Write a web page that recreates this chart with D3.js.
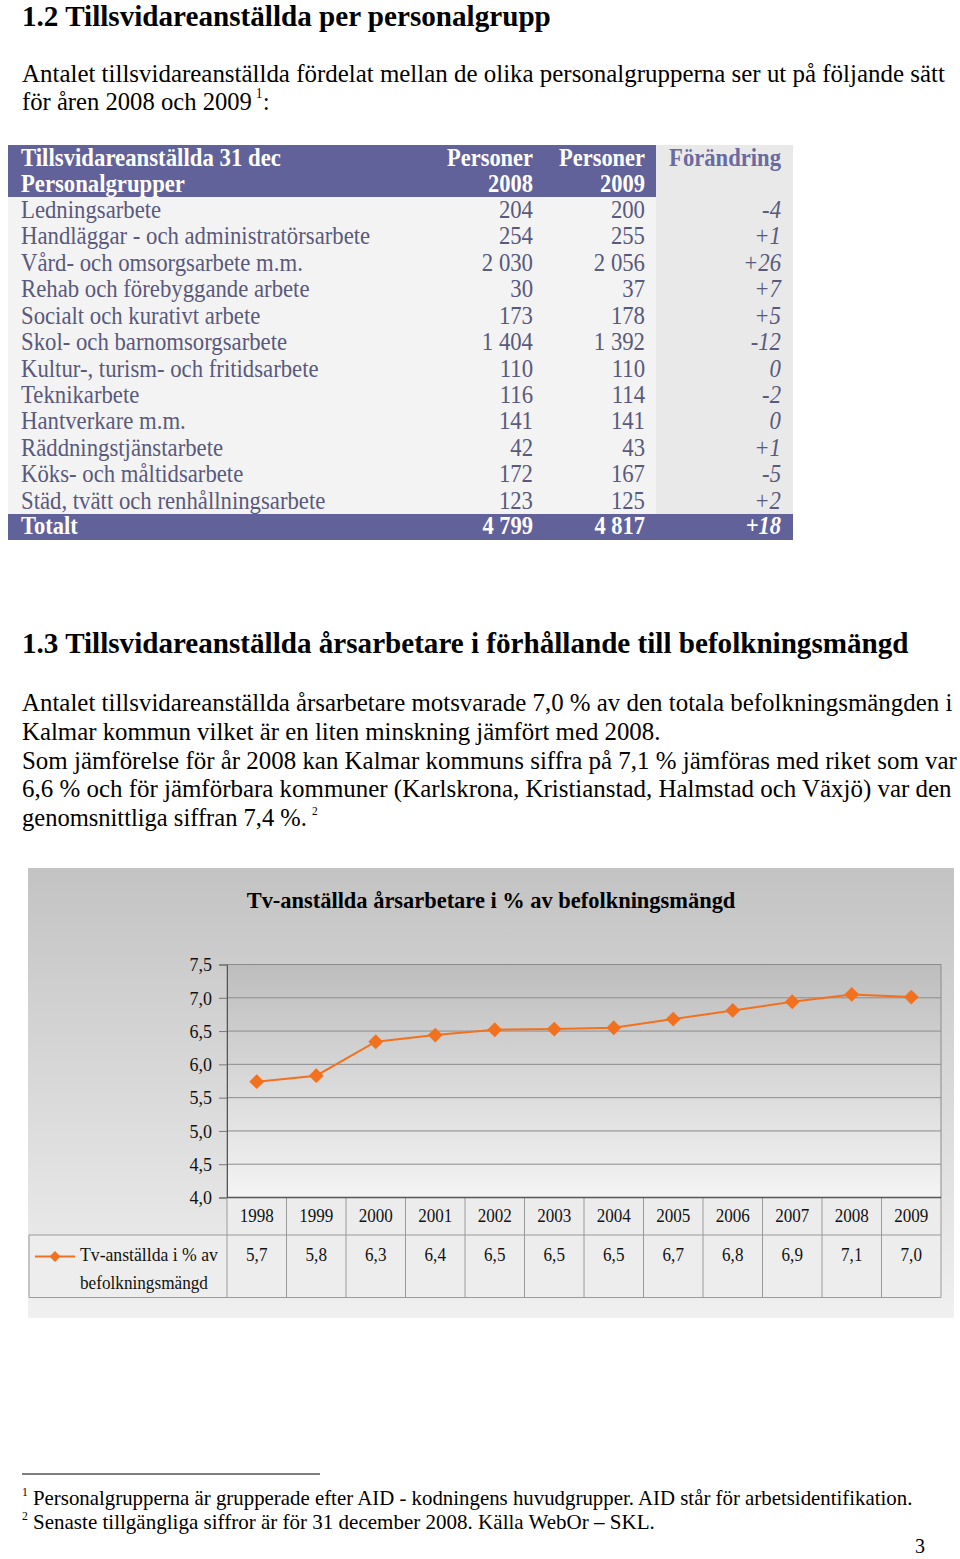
<!DOCTYPE html>
<html><head><meta charset="utf-8">
<script src="https://cdn.jsdelivr.net/npm/d3@7"></script>
<style>html,body{margin:0;padding:0;background:#fff}</style>
</head><body>
<script>
// ---------- DATA ----------
const groups = ["Ledningsarbete","Handläggar - och administratörsarbete","Vård- och omsorgsarbete m.m.",
  "Rehab och förebyggande arbete","Socialt och kurativt arbete","Skol- och barnomsorgsarbete",
  "Kultur-, turism- och fritidsarbete","Teknikarbete","Hantverkare m.m.","Räddningstjänstarbete",
  "Köks- och måltidsarbete","Städ, tvätt och renhållningsarbete"];
const persons2008 = [204,254,2030,30,173,1404,110,116,141,42,172,123];
const persons2009 = [200,255,2056,37,178,1392,110,114,141,43,167,125];
const changes = ["-4","+1","+26","+7","+5","-12","0","-2","0","+1","-5","+2"];
const total2008 = 4799, total2009 = 4817, totalChange = "+18";

const years = [1998,1999,2000,2001,2002,2003,2004,2005,2006,2007,2008,2009];
const shareValues = [5.74,5.83,6.34,6.44,6.52,6.53,6.55,6.68,6.81,6.94,7.05,7.01];
const shareLabels = ["5,7","5,8","6,3","6,4","6,5","6,5","6,5","6,7","6,8","6,9","7,1","7,0"];
const yTicks = [4.0,4.5,5.0,5.5,6.0,6.5,7.0,7.5];
const chartTitle = "Tv-anställda årsarbetare i % av befolkningsmängd";
const seriesName = ["Tv-anställda i % av","befolkningsmängd"];

// ---------- SETUP ----------
const W = 960, H = 1559;
const FONT = "Liberation Serif, Times New Roman, Tinos, serif";
const svg = d3.select("body").append("svg").attr("width",W).attr("height",H);
svg.append("rect").attr("width",W).attr("height",H).attr("fill","#fff");

// text helper: o.w = target width (scaled horizontally), else o.sx
function T(x,y,s,o={}){
  const t = svg.append("text").text(s)
    .attr("font-family",FONT).attr("font-size",o.size||25)
    .attr("fill",o.fill||"#000")
    .attr("font-weight",o.bold?"bold":"normal")
    .attr("font-style",o.italic?"italic":"normal")
    .attr("text-anchor",o.anchor||"start")
    .attr("x",0).attr("y",0);
  let sx = o.sx||0.9;
  if(o.w){ const L = t.node().getComputedTextLength(); if(L>0) sx = o.w/L; }
  t.attr("transform",`translate(${x},${y}) scale(${sx},1)`);
  return t;
}
const fmtN = n => d3.format(",")(n).replace(/,/g," ");

// ---------- SECTION 1.2 ----------
T(22,26,"1.2 Tillsvidareanställda per personalgrupp",{size:30,bold:true,w:529});
T(22,82,"Antalet tillsvidareanställda fördelat mellan de olika personalgrupperna ser ut på följande sätt",{size:26,w:923});
T(22,110,"för åren 2008 och 2009",{size:26,w:230});
T(256,98,"1",{size:14,sx:0.9});
T(263,110,":",{size:26,sx:0.9});

// ---------- TABLE ----------
const purple = "#62629b", txtC = "#59597c";
const tx0 = 8, tx1 = 656, tx2 = 793;
const rowY = d3.scaleBand().domain(d3.range(groups.length)).range([197,514]);
svg.append("rect").attr("x",tx0).attr("y",145).attr("width",tx1-tx0).attr("height",52).attr("fill",purple);
svg.append("rect").attr("x",tx1).attr("y",145).attr("width",tx2-tx1).attr("height",369).attr("fill","#e9e9ea");
svg.append("rect").attr("x",tx0).attr("y",197).attr("width",tx1-tx0).attr("height",317).attr("fill","#f3f3f3");
svg.append("rect").attr("x",tx0).attr("y",514).attr("width",tx2-tx0).attr("height",26).attr("fill",purple);

const c1 = 533, c2 = 645, c3 = 781;
T(21,166,"Tillsvidareanställda 31 dec",{size:25,bold:true,fill:"#fff",w:260});
T(21,192,"Personalgrupper",{size:25,bold:true,fill:"#fff",w:164});
T(c1,166,"Personer",{size:25,bold:true,fill:"#fff",anchor:"end",w:86});
T(c1,192,"2008",{size:25,bold:true,fill:"#fff",anchor:"end",sx:0.9});
T(c2,166,"Personer",{size:25,bold:true,fill:"#fff",anchor:"end",w:86});
T(c2,192,"2009",{size:25,bold:true,fill:"#fff",anchor:"end",sx:0.9});
T(c3,166,"Förändring",{size:25,bold:true,fill:"#6a6aa0",anchor:"end",w:112});

groups.forEach((g,i)=>{
  const yb = rowY(i) + 21;
  T(21,yb,g,{size:25,fill:txtC,sx:0.91});
  T(c1,yb,fmtN(persons2008[i]),{size:25,fill:txtC,anchor:"end",sx:0.91});
  T(c2,yb,fmtN(persons2009[i]),{size:25,fill:txtC,anchor:"end",sx:0.91});
  T(c3,yb,changes[i],{size:25,fill:txtC,anchor:"end",italic:true,sx:0.91});
});
T(21,534,"Totalt",{size:25,bold:true,fill:"#fff",sx:0.9});
T(c1,534,fmtN(total2008),{size:25,bold:true,fill:"#fff",anchor:"end",sx:0.9});
T(c2,534,fmtN(total2009),{size:25,bold:true,fill:"#fff",anchor:"end",sx:0.9});
T(c3,534,totalChange,{size:25,bold:true,italic:true,fill:"#fff",anchor:"end",sx:0.9});

// ---------- SECTION 1.3 ----------
T(22,653,"1.3 Tillsvidareanställda årsarbetare i förhållande till befolkningsmängd",{size:30,bold:true,w:887});
const paraLines = [
  ["Antalet tillsvidareanställda årsarbetare motsvarade 7,0 % av den totala befolkningsmängden i",931],
  ["Kalmar kommun vilket är en liten minskning jämfört med 2008.",639],
  ["Som jämförelse för år 2008 kan Kalmar kommuns siffra på 7,1 % jämföras med riket som var",935],
  ["6,6 % och för jämförbara kommuner (Karlskrona, Kristianstad, Halmstad och Växjö) var den",930],
  ["genomsnittliga siffran 7,4 %.",285]
];
const paraBase = [711,740,769,797,826];
paraLines.forEach((l,i)=>T(22,paraBase[i],l[0],{size:26,w:l[1]}));
T(312,815,"2",{size:12,sx:0.95});

// ---------- CHART ----------
const defs = svg.append("defs");
const g1 = defs.append("linearGradient").attr("id","bgGrad").attr("x1",0).attr("y1",0).attr("x2",0).attr("y2",1);
g1.append("stop").attr("offset","0%").attr("stop-color","#c3c3c3");
g1.append("stop").attr("offset","100%").attr("stop-color","#f0f0f0");
const g2 = defs.append("linearGradient").attr("id","plotGrad").attr("x1",0).attr("y1",0).attr("x2",0).attr("y2",1);
g2.append("stop").attr("offset","0%").attr("stop-color","#bdbdbd");
g2.append("stop").attr("offset","100%").attr("stop-color","#f4f4f4");

svg.append("rect").attr("x",28).attr("y",868).attr("width",926).attr("height",450).attr("fill","url(#bgGrad)");

const x = d3.scaleBand().domain(years).range([227,941]);
const y = d3.scaleLinear().domain([4,7.5]).range([1197.5,964.5]);

svg.append("rect").attr("x",227).attr("y",y(7.5)).attr("width",941-227).attr("height",y(4)-y(7.5))
  .attr("fill","url(#plotGrad)").attr("stroke","#8c8c8c");

T(491,908,chartTitle,{size:24,bold:true,anchor:"middle",w:489});

// gridlines
svg.append("g").selectAll("line").data(yTicks.filter(v=>v>4)).join("line")
  .attr("x1",227).attr("x2",941).attr("y1",d=>y(d)).attr("y2",d=>y(d))
  .attr("stroke","#8c8c8c").attr("stroke-width",1);

// y axis
const yAxis = svg.append("g").attr("transform","translate(227,0)")
  .call(d3.axisLeft(y).tickValues(yTicks).tickSize(8).tickPadding(7)
    .tickFormat(d=>d3.format(".1f")(d).replace(".",",")));
yAxis.select(".domain").attr("stroke","#555");
yAxis.selectAll(".tick line").attr("stroke","#777");
yAxis.selectAll(".tick text").attr("font-family",FONT).attr("font-size",18).attr("fill","#111").attr("dy","0.35em");

// data table under the chart
const tb = svg.append("g");
const tTop = 1197.5, tMid = 1235, tBot = 1297.5;
tb.append("rect").attr("x",29).attr("y",tMid).attr("width",941-29).attr("height",tBot-tMid).attr("fill","#ededed");
tb.append("rect").attr("x",227).attr("y",tTop).attr("width",941-227).attr("height",tMid-tTop).attr("fill","#ececec");
tb.append("path").attr("fill","none").attr("stroke","#9a9a9a").attr("stroke-width",1)
  .attr("d",`M227,${tTop}V${tBot}M941,${tTop}V${tBot}M29,${tMid}H941M29,${tMid}V${tBot}H941`);
tb.selectAll("line.col").data(years.slice(1)).join("line").attr("class","col")
  .attr("x1",d=>x(d)).attr("x2",d=>x(d)).attr("y1",tTop).attr("y2",tBot)
  .attr("stroke","#9a9a9a");
years.forEach((yr,i)=>{
  T(x(yr)+x.bandwidth()/2,1222,String(yr),{size:18,anchor:"middle",fill:"#111",sx:0.95});
  T(x(yr)+x.bandwidth()/2,1261,shareLabels[i],{size:18,anchor:"middle",fill:"#111",sx:0.95});
});
svg.append("line").attr("x1",227).attr("x2",941).attr("y1",y(4)).attr("y2",y(4)).attr("stroke","#555").attr("stroke-width",1.5);

// legend key
const orange = "#f2711f";
const diamond = sz => d3.symbol(d3.symbolSquare, sz)();
svg.append("line").attr("x1",35).attr("x2",75).attr("y1",1256.5).attr("y2",1256.5).attr("stroke",orange).attr("stroke-width",2);
svg.append("path").attr("d",diamond(60)).attr("transform","translate(55,1256.5) rotate(45)").attr("fill",orange);
T(80,1261,seriesName[0],{size:18,fill:"#111",w:138});
T(80,1289,seriesName[1],{size:18,fill:"#111",w:128});

// line + markers
const line = d3.line().x((d,i)=>x(years[i])+x.bandwidth()/2).y(d=>y(d));
svg.append("path").datum(shareValues).attr("d",line).attr("fill","none").attr("stroke",orange).attr("stroke-width",2);
svg.append("g").selectAll("path").data(shareValues).join("path")
  .attr("d",diamond(110))
  .attr("transform",(d,i)=>`translate(${x(years[i])+x.bandwidth()/2},${y(d)}) rotate(45)`)
  .attr("fill",orange);

// ---------- FOOTNOTES ----------
svg.append("line").attr("x1",22).attr("x2",320).attr("y1",1474).attr("y2",1474).attr("stroke","#000").attr("stroke-width",1.2);
T(22,1496,"1",{size:13,sx:0.9});
T(33,1505,"Personalgrupperna är grupperade efter AID - kodningens huvudgrupper. AID står för arbetsidentifikation.",{size:20,w:880});
T(22,1520,"2",{size:13,sx:0.9});
T(33,1529,"Senaste tillgängliga siffror är för 31 december 2008. Källa WebOr  – SKL.",{size:20,w:622});
T(925,1553,"3",{size:21,anchor:"end",sx:0.95});
</script>
</body></html>
